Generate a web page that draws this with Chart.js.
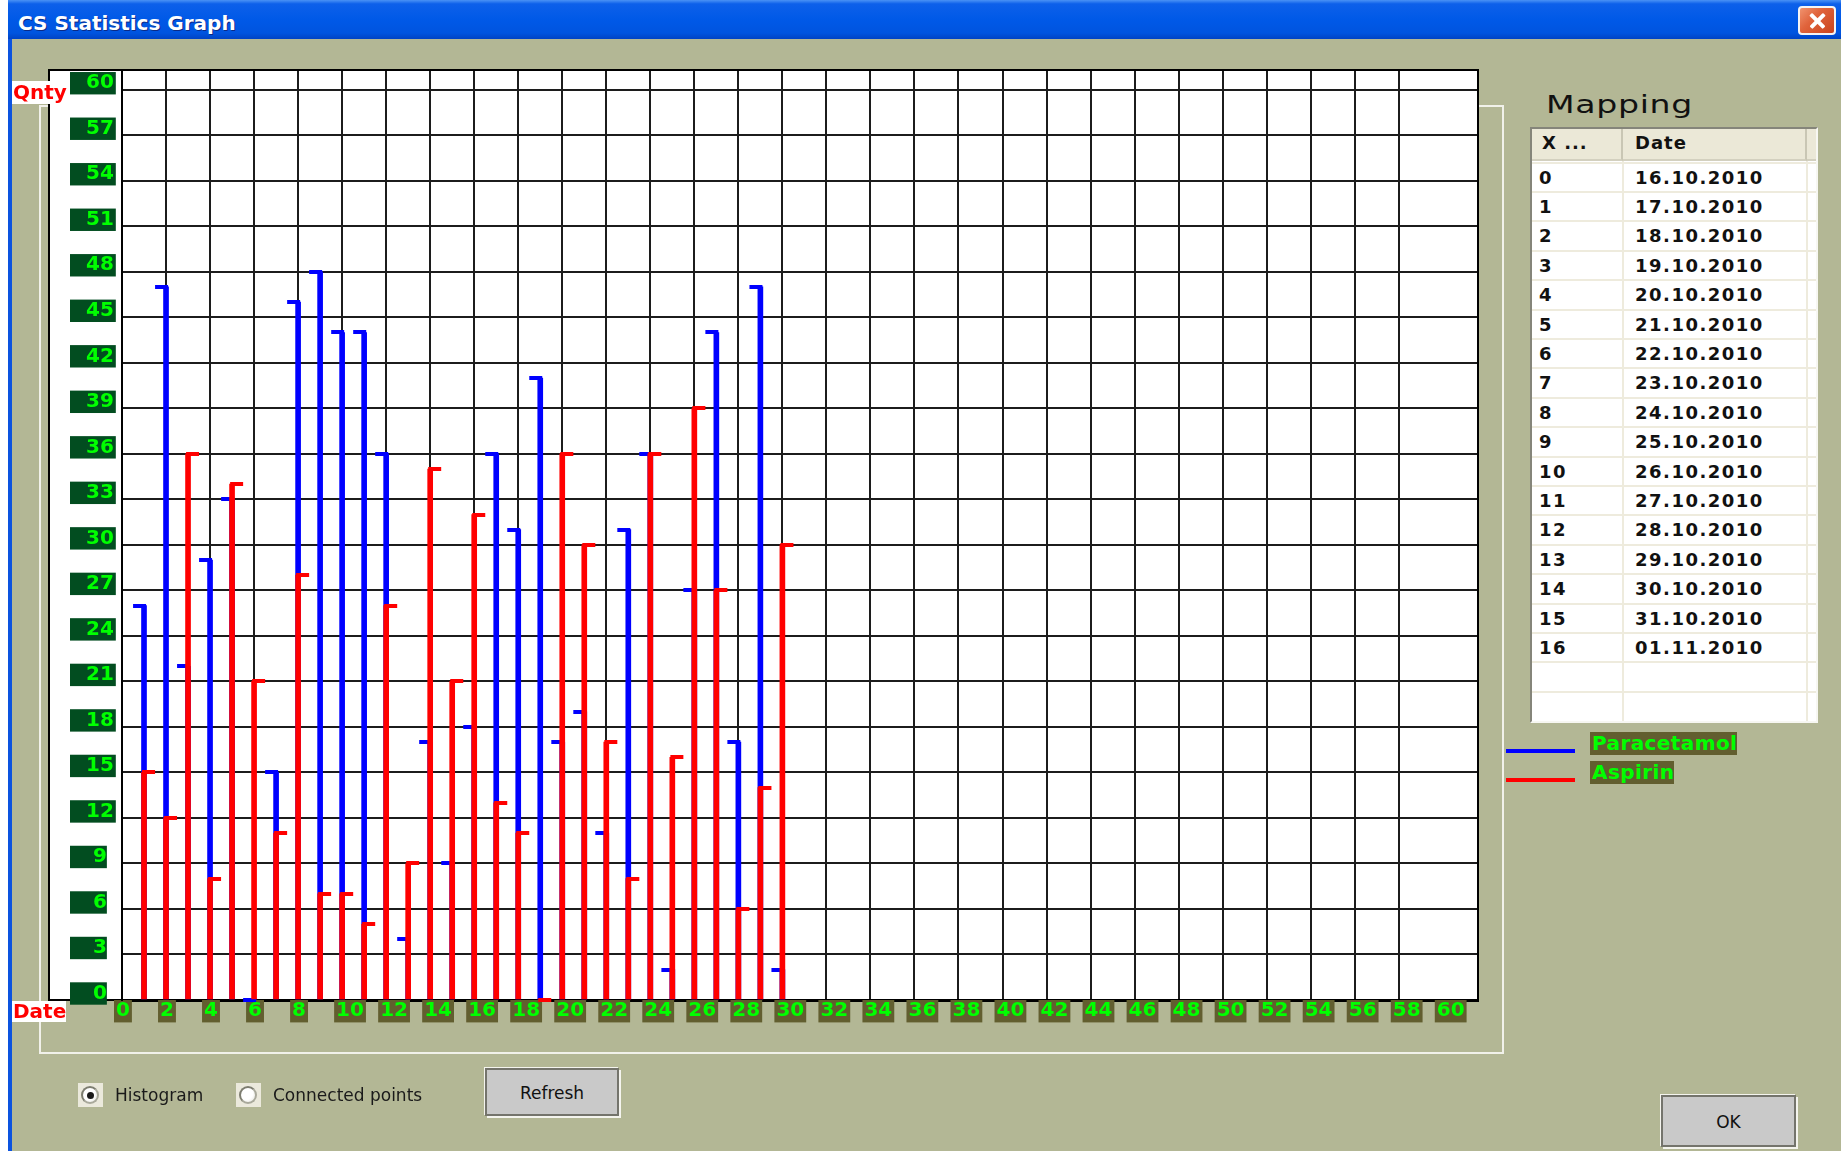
<!DOCTYPE html>
<html>
<head>
<meta charset="utf-8">
<title>CS Statistics Graph</title>
<script src="https://cdn.jsdelivr.net/npm/chart.js@4.4.1/dist/chart.umd.min.js"></script>
<style>
html,body{margin:0;padding:0;}
body{width:1841px;height:1151px;overflow:hidden;position:relative;background:#ffffff;font-family:'DejaVu Sans',sans-serif;}
.abs{position:absolute;}
#dialog{left:8px;top:0;width:1833px;height:1151px;background:#b3b795;}
#leftEdge{left:8px;top:0;width:4px;height:1151px;background:#0c53df;}
#titlebar{left:8px;top:0;width:1833px;height:39px;background:linear-gradient(#4a92f5 0%,#0d60ea 10%,#0059e7 50%,#0054df 85%,#0043c4 100%);}
#title{left:18px;top:13px;font:bold 20px/20px 'DejaVu Sans';color:#fff;text-shadow:1px 1px 0 #0b2a86;white-space:nowrap;}
#closeBtn{left:1798px;top:6px;width:38px;height:29px;box-sizing:border-box;border:2px solid #f4f4f4;border-radius:4px;background:linear-gradient(135deg,#f0936f 0%,#e0633b 40%,#c9431d 100%);}
.xbar{position:absolute;left:8px;top:11px;width:19px;height:3.5px;background:#fff;border-radius:1px;}
#group{left:39px;top:105px;width:1465px;height:949px;box-sizing:border-box;border:2px solid #f1f1ea;}
#panel{left:48px;top:69px;width:1431px;height:932px;box-sizing:border-box;background:#fff;border-left:2px solid #000;border-top:2px solid #000;border-bottom:2px solid #000;}
#chartBox{left:0;top:50px;width:1500px;height:1000px;}
.axisName{background:#fff;color:#ff0000;font:bold 20px/23px 'DejaVu Sans';padding-left:1px;box-sizing:border-box;}
#qnty{left:12px;top:81px;width:54px;height:23px;}
#dateLbl{left:12px;top:1001px;width:54px;height:21px;line-height:21px;}
#mapping{left:1546px;top:93px;font:24px/24px 'DejaVu Sans';color:#111;letter-spacing:0.5px;transform:scaleX(1.38);transform-origin:0 0;white-space:nowrap;}
#table{left:1530px;top:127px;width:288px;height:596px;box-sizing:border-box;background:#fff;border-left:2px solid #85857a;border-top:2px solid #85857a;border-right:2px solid #f7f7f2;border-bottom:2px solid #f7f7f2;}
.hcell{position:absolute;top:129px;height:32px;box-sizing:border-box;background:#ebe8d7;border-bottom:2px solid #d3d0bf;border-right:2px solid #c9c6b4;font:bold 18px/28px 'DejaVu Sans';letter-spacing:1px;color:#111;white-space:nowrap;}
.rowline{position:absolute;left:1532px;width:284px;height:2px;background:#eeebdd;}
.colline{position:absolute;top:161px;width:2px;height:560px;background:#eeebdd;}
.cell{position:absolute;font:bold 18px/29.4px 'DejaVu Sans';letter-spacing:1.5px;color:#111;white-space:nowrap;}
.legLine{position:absolute;left:1506px;width:69px;height:4px;}
.legBox{position:absolute;left:1590px;height:23px;background:#625e2f;color:#00ff00;font:bold 20px/23px 'DejaVu Sans';letter-spacing:0.4px;padding-left:2px;box-sizing:border-box;white-space:nowrap;}
.radio{position:absolute;top:1083px;width:25px;height:24px;background:#ebe9dc;}
.radio .ring{position:absolute;left:3px;top:3px;width:18px;height:18px;box-sizing:border-box;border-radius:50%;border:2px solid #a9a99b;border-top-color:#7d7d70;border-left-color:#7d7d70;background:radial-gradient(circle at 40% 40%,#ffffff 50%,#e0e0d6 100%);}
.radio .dot{position:absolute;left:9px;top:9px;width:7px;height:7px;border-radius:50%;background:#1a1a1a;}
.rlabel{position:absolute;top:1087px;font:17px/17px 'DejaVu Sans';color:#1a1a1a;white-space:nowrap;}
.btn{position:absolute;box-sizing:border-box;background:#c9c9c9;border:2px solid #74746c;box-shadow:2px 2px 0 #f4f4ee,-1px -1px 0 #f4f4ee;display:flex;align-items:center;justify-content:center;font:17px/17px 'DejaVu Sans';color:#111;padding-top:3px;}
</style>
</head>
<body>
<div id="dialog" class="abs"></div>
<div id="leftEdge" class="abs"></div>
<div id="titlebar" class="abs"></div>
<div id="title" class="abs">CS Statistics Graph</div>
<div id="closeBtn" class="abs"><div class="xbar" style="transform:rotate(45deg)"></div><div class="xbar" style="transform:rotate(-45deg)"></div></div>
<div id="group" class="abs"></div>
<div id="panel" class="abs"></div>
<div id="chartBox" class="abs"><canvas id="chart"></canvas></div>
<div id="qnty" class="abs axisName">Qnty</div>
<div id="dateLbl" class="abs axisName">Date</div>
<div id="mapping" class="abs">Mapping</div>
<div id="table" class="abs"></div>
<div id="tableInner"></div>
<div id="legend"></div>
<div class="radio" style="left:78px"><div class="ring"></div><div class="dot"></div></div>
<div class="rlabel" style="left:115px">Histogram</div>
<div class="radio" style="left:236px"><div class="ring"></div></div>
<div class="rlabel" style="left:273px">Connected points</div>
<div class="btn" style="left:485px;top:1068px;width:134px;height:48px;">Refresh</div>
<div class="btn" style="left:1661px;top:1095px;width:135px;height:52px;">OK</div>

<script>
// ---------------- data ----------------
const xPositions = [1, 2, 3, 4, 5, 6, 7, 8, 9, 10, 11, 12, 13, 14, 15, 16, 17, 18, 19, 20, 21, 22, 23, 24, 25, 26, 27, 28, 29, 30];
const paracetamol = [26, 47, 22, 29, 33, 0, 15, 46, 48, 44, 44, 36, 4, 17, 9, 18, 36, 31, 41, 17, 19, 11, 31, 36, 2, 27, 44, 17, 47, 2];
const aspirin = [15, 12, 36, 8, 34, 21, 11, 28, 7, 7, 5, 26, 9, 35, 21, 32, 13, 11, 0, 36, 30, 17, 8, 36, 16, 39, 27, 6, 14, 30];
const seriesNames = ['Paracetamol', 'Aspirin'];
const seriesColors = ['#0000ff', '#ff0000'];
const xTickValues = [0, 2, 4, 6, 8, 10, 12, 14, 16, 18, 20, 22, 24, 26, 28, 30, 32, 34, 36, 38, 40, 42, 44, 46, 48, 50, 52, 54, 56, 58, 60];
const yTickValues = [0, 3, 6, 9, 12, 15, 18, 21, 24, 27, 30, 33, 36, 39, 42, 45, 48, 51, 54, 57, 60];
const mappingX = [0, 1, 2, 3, 4, 5, 6, 7, 8, 9, 10, 11, 12, 13, 14, 15, 16];
const mappingDates = ['16.10.2010', '17.10.2010', '18.10.2010', '19.10.2010', '20.10.2010', '21.10.2010', '22.10.2010', '23.10.2010', '24.10.2010', '25.10.2010', '26.10.2010', '27.10.2010', '28.10.2010', '29.10.2010', '30.10.2010', '31.10.2010', '01.11.2010'];
const tableHeaders = ['X ...', 'Date'];

// ---------------- mapping table ----------------
(function buildTable() {
  const host = document.getElementById('tableInner');
  let html = '';
  html += '<div class="hcell" style="left:1532px;width:91px;padding-left:10px">' + tableHeaders[0] + '</div>';
  html += '<div class="hcell" style="left:1623px;width:184px;padding-left:12px">' + tableHeaders[1] + '</div>';
  html += '<div class="hcell" style="left:1807px;width:9px;border-right:none"></div>';
  const rowH = 29.4, top0 = 162.6, nRows = mappingX.length + 2;
  for (let i = 0; i < nRows; i++) {
    const t = top0 + rowH * i;
    html += '<div class="rowline" style="top:' + (t - 1) + 'px"></div>';
    if (i < mappingX.length) {
      html += '<div class="cell" style="left:1539px;top:' + t + 'px">' + mappingX[i] + '</div>';
      html += '<div class="cell" style="left:1635px;top:' + t + 'px">' + mappingDates[i] + '</div>';
    }
  }
  html += '<div class="colline" style="left:1622px"></div>';
  html += '<div class="colline" style="left:1806px"></div>';
  host.innerHTML = html;
})();

// ---------------- legend ----------------
(function buildLegend() {
  const host = document.getElementById('legend');
  const lineTops = [749, 778], boxTops = [732, 761];
  let html = '';
  seriesNames.forEach((n, i) => {
    html += '<div class="legLine" style="top:' + lineTops[i] + 'px;background:' + seriesColors[i] + '"></div>';
    html += '<div class="legBox" style="top:' + boxTops[i] + 'px">' + n + '</div>';
  });
  host.innerHTML = html;
})();

// ---------------- cap images (point styles) ----------------
function makeCap(color, dir) {
  const c = document.createElement('canvas');
  c.width = 24; c.height = 4;
  const g = c.getContext('2d');
  g.fillStyle = color;
  if (dir > 0) g.fillRect(10, 0, 13, 4); else g.fillRect(1, 0, 13, 4);
  return c;
}
const capBlue = makeCap(seriesColors[0], -1);
const capRed = makeCap(seriesColors[1], 1);

const pts = vals => xPositions.map((x, i) => ({ x: x, y: vals[i] }));

const GRID = '#1c1c1c';

new Chart(document.getElementById('chart'), {
  type: 'bar',
  data: {
    datasets: [
      { type: 'bar', label: seriesNames[0], data: pts(paracetamol), backgroundColor: seriesColors[0], borderWidth: 0, barThickness: 5, grouped: false, order: 4 },
      { type: 'line', label: seriesNames[0] + ' top', data: pts(paracetamol), showLine: false, pointStyle: capBlue, pointRadius: 3, clip: false, order: 3 },
      { type: 'bar', label: seriesNames[1], data: pts(aspirin), backgroundColor: seriesColors[1], borderWidth: 0, barThickness: 5, grouped: false, order: 2 },
      { type: 'line', label: seriesNames[1] + ' top', data: pts(aspirin), showLine: false, pointStyle: capRed, pointRadius: 3, clip: false, order: 1 }
    ]
  },
  options: {
    responsive: true,
    maintainAspectRatio: false,
    animation: false,
    events: [],
    layout: { autoPadding: false, padding: { left: 70, top: 20, right: 22, bottom: 20 } },
    plugins: { legend: { display: false }, tooltip: { enabled: false } },
    scales: {
      x: {
        type: 'linear', position: 'bottom', min: 0, max: 61.6, offset: false,
        afterBuildTicks: s => { s.ticks = xTickValues.map(v => ({ value: v })); },
        afterFit: s => { s.height = 30; },
        grid: { color: c => (c.tick && c.tick.value === 60) ? 'rgba(0,0,0,0)' : GRID, lineWidth: 2, drawTicks: false, offset: false },
        border: { color: '#000', width: 3 },
        ticks: {
          autoSkip: false, maxRotation: 0, minRotation: 0, align: 'start', labelOffset: -8, padding: 0,
          color: '#00ff00', font: { family: "'DejaVu Sans'", size: 20, weight: 'bold', lineHeight: 1.12 },
          showLabelBackdrop: true, backdropColor: '#625e2f', backdropPadding: 0,
          callback: v => '\u200a' + String(v) + '\u200a'
        }
      },
      y: {
        type: 'linear', position: 'left', min: 0, max: 61.3,
        afterBuildTicks: s => { s.ticks = yTickValues.map(v => ({ value: v })); },
        afterFit: s => { s.width = 52; },
        grid: { color: GRID, lineWidth: 2, drawTicks: false },
        border: { color: '#000', width: 2 },
        ticks: {
          autoSkip: false, crossAlign: 'far', labelOffset: -6.5, padding: 0,
          color: '#00ff00', font: { family: "'DejaVu Sans'", size: 20, weight: 'bold', lineHeight: 1.12 },
          showLabelBackdrop: true, backdropColor: '#024d20', backdropPadding: 0,
          callback: v => (v < 10 ? '\u2002\u00a0\u2009\u200a' + String(v) : '\u2002\u2009\u200a' + String(v) + '\u200a')
        }
      },
      xTop: {
        type: 'linear', position: 'top', min: 0, max: 61.6, display: true,
        afterFit: s => { s.height = 0; },
        grid: { drawOnChartArea: false, drawTicks: false },
        border: { color: '#000', width: 2 },
        ticks: { display: false }
      },
      yRight: {
        type: 'linear', position: 'right', min: 0, max: 61.3, display: true,
        afterFit: s => { s.width = 0; },
        grid: { drawOnChartArea: false, drawTicks: false },
        border: { color: '#000', width: 2 },
        ticks: { display: false }
      }
    }
  }
});
</script>
</body>
</html>
